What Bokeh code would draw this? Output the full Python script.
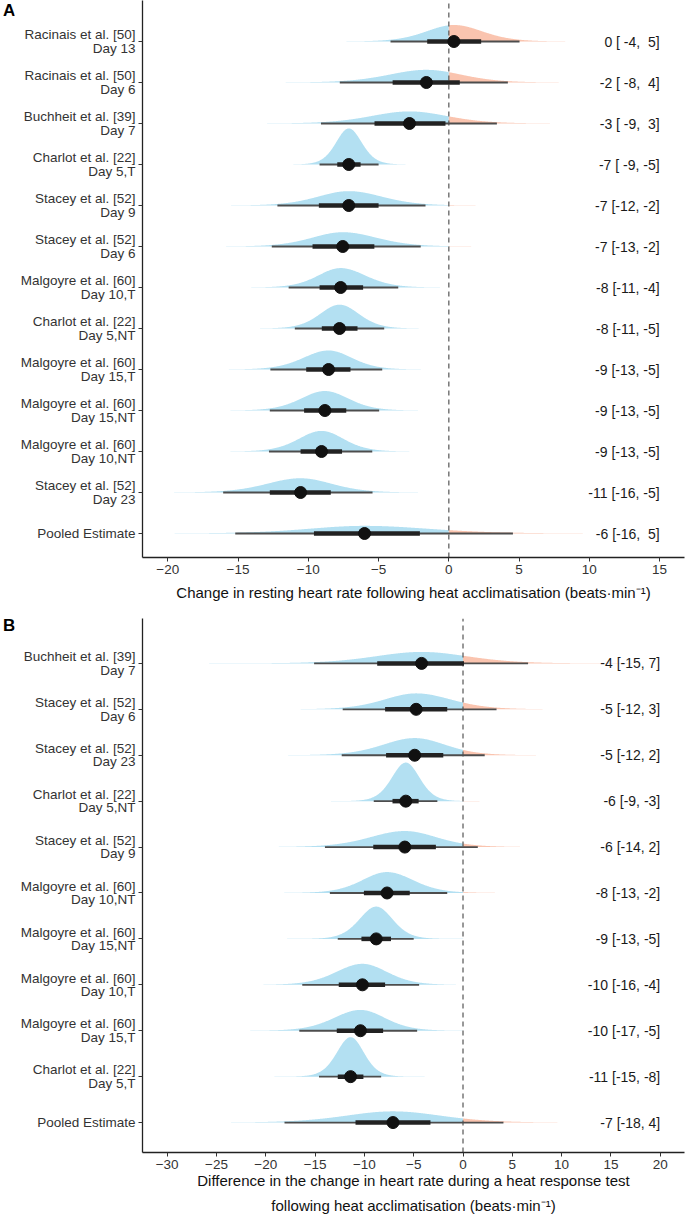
import numpy as np
from bokeh.plotting import figure
from bokeh.layouts import column, row
from bokeh.models import FixedTicker, Range1d, Div
from bokeh.core.properties import value
from bokeh.embed import file_html
from bokeh.resources import INLINE

# ---------------- Panel A data (top to bottom) ----------------
a_study = ["Racinais et al. [50]\nDay 13", "Racinais et al. [50]\nDay 6", "Buchheit et al. [39]\nDay 7",
           "Charlot et al. [22]\nDay 5,T", "Stacey et al. [52]\nDay 9", "Stacey et al. [52]\nDay 6",
           "Malgoyre et al. [60]\nDay 10,T", "Charlot et al. [22]\nDay 5,NT", "Malgoyre et al. [60]\nDay 15,T",
           "Malgoyre et al. [60]\nDay 15,NT", "Malgoyre et al. [60]\nDay 10,NT", "Stacey et al. [52]\nDay 23",
           "Pooled Estimate"]
a_point = [0.36, -1.6, -2.8, -7.12, -7.12, -7.55, -7.7, -7.78, -8.56, -8.82, -9.06, -10.55, -6.0]
a_lo66 = [-1.54, -4.0, -5.29, -7.94, -9.25, -9.7, -9.2, -9.04, -10.15, -10.3, -10.55, -12.74, -9.6]
a_hi66 = [2.3, 0.78, -0.24, -6.28, -5.0, -5.3, -6.1, -6.5, -7.0, -7.3, -7.6, -8.4, -2.06]
a_lo95 = [-4.15, -7.76, -9.1, -9.2, -12.2, -12.6, -11.4, -10.96, -12.7, -12.74, -12.8, -16.06, -15.2]
a_hi95 = [5.03, 4.2, 3.42, -5.0, -1.66, -2.0, -3.6, -4.6, -4.74, -4.96, -5.45, -5.43, 4.56]
a_text = ["0 [ -4,  5]", "-2 [ -8,  4]", "-3 [ -9,  3]", "-7 [ -9, -5]", "-7 [-12, -2]", "-7 [-13, -2]",
          "-8 [-11, -4]", "-8 [-11, -5]", "-9 [-13, -5]", "-9 [-13, -5]", "-9 [-13, -5]", "-11 [-16, -5]",
          "-6 [-16,  5]"]
a_xticks = [-20, -15, -10, -5, 0, 5, 10, 15]
a_title = "Change in resting heart rate following heat acclimatisation (beats\u00b7min\u207b\u00b9)"

# ---------------- Panel B data (top to bottom) ----------------
b_study = ["Buchheit et al. [39]\nDay 7", "Stacey et al. [52]\nDay 6", "Stacey et al. [52]\nDay 23",
           "Charlot et al. [22]\nDay 5,NT", "Stacey et al. [52]\nDay 9", "Malgoyre et al. [60]\nDay 10,NT",
           "Malgoyre et al. [60]\nDay 15,NT", "Malgoyre et al. [60]\nDay 10,T", "Malgoyre et al. [60]\nDay 15,T",
           "Charlot et al. [22]\nDay 5,T", "Pooled Estimate"]
b_point = [-4.2, -4.75, -4.9, -5.8, -5.9, -7.7, -8.8, -10.2, -10.4, -11.4, -7.1]
b_lo66 = [-8.7, -7.9, -7.8, -7.15, -9.1, -10.05, -10.3, -12.6, -12.8, -12.7, -10.9]
b_hi66 = [0.1, -1.6, -2.0, -4.5, -2.75, -5.4, -7.3, -7.9, -8.1, -10.1, -3.3]
b_lo95 = [-15.1, -12.2, -12.3, -9.05, -14.0, -13.5, -12.7, -16.3, -16.6, -14.6, -18.1]
b_hi95 = [6.6, 3.4, 2.2, -2.6, 1.5, -1.6, -5.0, -4.45, -4.65, -8.3, 4.1]
b_text = ["-4 [-15, 7]", "-5 [-12, 3]", "-5 [-12, 2]", "-6 [-9, -3]", "-6 [-14, 2]", "-8 [-13, -2]",
          "-9 [-13, -5]", "-10 [-16, -4]", "-10 [-17, -5]", "-11 [-15, -8]", "-7 [-18, 4]"]
b_xticks = [-30, -25, -20, -15, -10, -5, 0, 5, 10, 15, 20]
b_title = ("Difference in the change in heart rate during a heat response test\n"
           "following heat acclimatisation (beats\u00b7min\u207b\u00b9)")

BLUE = "#b3e0f2"
SALMON = "#fac4af"
FONT = "Liberation Sans"
TAG_W = 14


def slab_density(pt, lo, hi, xs, df=10.0):
    q = 2.228
    sl = max(pt - lo, 1e-3) / q
    sr = max(hi - pt, 1e-3) / q
    s = np.where(xs < pt, sl, sr)
    z = (xs - pt) / s
    return (1 + z * z / df) ** (-(df + 1) / 2) * 2.0 / (sl + sr)


def keep_spaces(s):
    return s.replace("  ", " \u00a0")


def panel(study, point, lo66, hi66, lo95, hi95, text, xticks, title, x_range, y_range,
          height, border_top, border_bottom, tag, tag_top, title_line_height, title_standoff,
          slab_scale):
    n = len(study)
    rows = list(range(n, 0, -1))
    p = figure(width=685 - TAG_W, height=height, x_range=Range1d(*x_range), y_range=Range1d(*y_range),
               output_backend="svg", toolbar_location=None, title=None,
               min_border_left=142 - TAG_W, min_border_right=1, min_border_top=border_top,
               min_border_bottom=border_bottom, margin=(0, 0, 0, 0))
    p.outline_line_color = None
    p.xgrid.visible = False
    p.ygrid.visible = False

    xmin, xmax = xticks[0], xticks[-1]
    xs = np.union1d(np.linspace(xmin, xmax, 900), [0.0])
    dens = [slab_density(point[i], lo95[i], hi95[i], xs) for i in range(n)]
    gmax = max(d.max() for d in dens)
    neg = xs <= 0
    pos = xs >= 0
    for i in range(n):
        h = dens[i] / gmax * slab_scale
        base = rows[i]
        p.varea(x=xs[neg], y1=np.full(neg.sum(), base), y2=base + h[neg], fill_color=BLUE)
        p.varea(x=xs[pos], y1=np.full(pos.sum(), base), y2=base + h[pos], fill_color=SALMON)

    # reference line at zero
    p.segment(x0=[0], x1=[0], y0=[y_range[0]], y1=[y_range[1]], line_color="#555555",
              line_width=1.2, line_dash="5 4")

    p.segment(x0=lo95, x1=hi95, y0=rows, y1=rows, line_color="#4d4d4d", line_width=1.8)
    p.segment(x0=lo66, x1=hi66, y0=rows, y1=rows, line_color="#222222", line_width=4.5)
    p.scatter(x=point, y=rows, size=12, fill_color="#111111", line_color="#111111")

    p.text(x=[xmax] * n, y=rows, text=[keep_spaces(t) for t in text], text_align="right",
           text_baseline="middle", text_font=value(FONT), text_font_size="14px", text_color="#1a1a1a")

    for ax in (p.xaxis[0], p.yaxis[0]):
        ax.axis_line_color = "#222222"
        ax.axis_line_width = 1.3
        ax.major_tick_line_color = "#333333"
        ax.major_tick_out = 4
        ax.major_tick_in = 0
        ax.minor_tick_line_color = None
        ax.major_label_text_font = FONT
        ax.major_label_text_font_size = "13.5px"
        ax.major_label_text_color = "#333333"
    p.xaxis.ticker = FixedTicker(ticks=xticks)
    p.xaxis.major_label_standoff = 3
    p.yaxis.ticker = FixedTicker(ticks=rows)
    p.yaxis.major_label_overrides = {r: s for r, s in zip(rows, study)}
    p.yaxis.major_label_standoff = 3
    p.yaxis.major_label_text_line_height = 0.9

    p.xaxis.axis_label = title
    p.xaxis.axis_label_text_font = FONT
    p.xaxis.axis_label_text_font_style = "normal"
    p.xaxis.axis_label_text_font_size = "15px"
    p.xaxis.axis_label_text_color = "#111111"
    p.xaxis.axis_label_standoff = title_standoff
    p.xaxis.axis_label_text_line_height = title_line_height

    tag_div = Div(text=tag, width=TAG_W - 3, height=20, margin=(tag_top, 0, 0, 3),
                  styles={"font-family": FONT, "font-weight": "bold", "font-size": "17px",
                          "color": "#000000", "line-height": "1", "overflow": "visible",
                          "white-space": "nowrap"})
    return row(tag_div, p, spacing=0)


pA = panel(a_study, a_point, a_lo66, a_hi66, a_lo95, a_hi95, a_text, a_xticks, a_title,
           (-21.8, 16.77), (0.415, 14.0), 605, 0, 48, "A", 2, 1.2, 7, 0.88)
pB = panel(b_study, b_point, b_lo66, b_hi66, b_lo95, b_hi95, b_text, b_xticks, b_title,
           (-32.5, 22.46), (0.348, 11.978), 612, 13, 64, "B", 12, 1.5, 0, 0.86)

layout = column(pA, pB, spacing=0)
open("out.html", "w").write(file_html(layout, INLINE))
